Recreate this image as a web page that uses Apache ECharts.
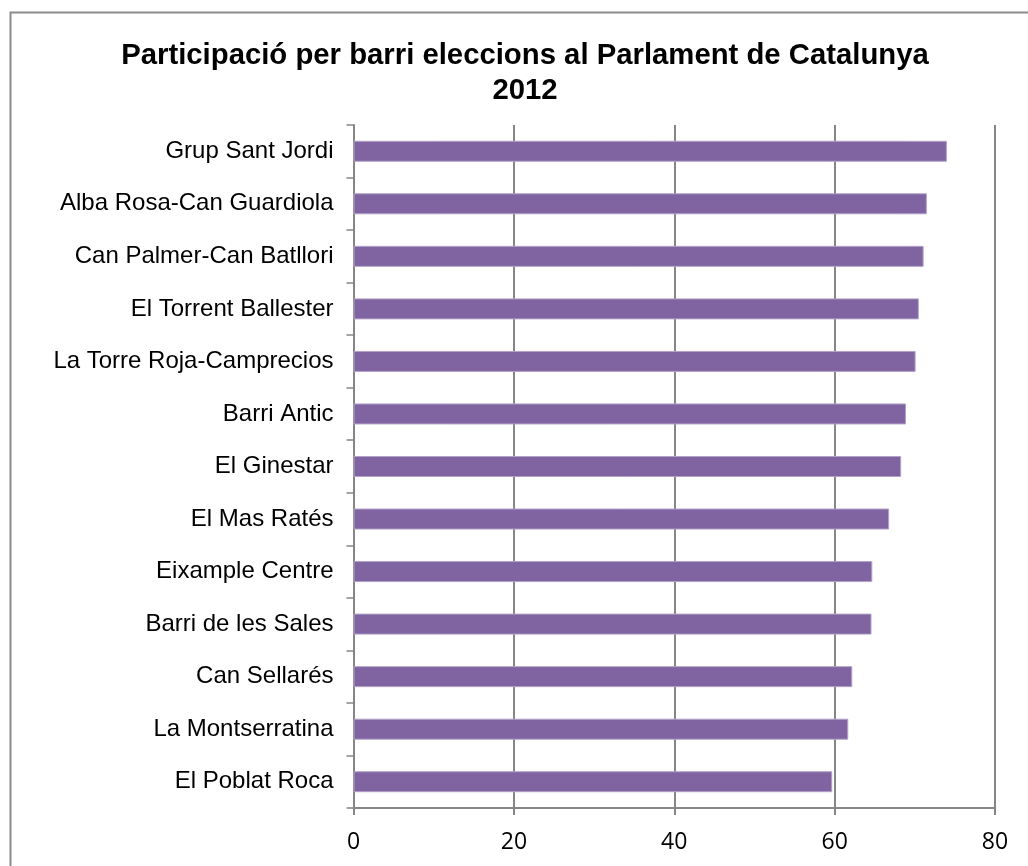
<!DOCTYPE html>
<html>
<head>
<meta charset="utf-8">
<script src="https://cdn.jsdelivr.net/npm/echarts@6/dist/echarts.min.js"></script>
<style>
html,body{margin:0;padding:0;background:#fff;}
#chart{width:1028px;height:866px;}
</style>
</head>
<body>
<div id="chart"></div>
<script>
const titleText = "Participació per barri eleccions al Parlament de Catalunya\n2012";
const categories = [
  "Grup Sant Jordi",
  "Alba Rosa-Can Guardiola",
  "Can Palmer-Can Batllori",
  "El Torrent Ballester",
  "La Torre Roja-Camprecios",
  "Barri Antic",
  "El Ginestar",
  "El Mas Ratés",
  "Eixample Centre",
  "Barri de les Sales",
  "Can Sellarés",
  "La Montserratina",
  "El Poblat Roca"
];
const participation = [74.0, 71.5, 71.1, 70.5, 70.1, 68.9, 68.3, 66.8, 64.7, 64.6, 62.2, 61.7, 59.7];
const xTicks = { min: 0, max: 80, interval: 20 };

const chart = echarts.init(document.getElementById('chart'), null, {renderer: 'canvas'});
chart.setOption({
  animation: false,
  backgroundColor: '#ffffff',
  graphic: [{
    type: 'rect',
    shape: {x: 10.5, y: 12.5, width: 1100, height: 1000},
    style: {fill: 'none', stroke: '#8c8c8c', lineWidth: 2},
    silent: true,
    z: -1
  }],
  title: {
    text: titleText,
    left: 520,
    textAlign: 'center',
    top: 33,
    textStyle: {
      fontFamily: 'Liberation Sans, Arial, sans-serif',
      fontSize: 29.3,
      fontWeight: 'bold',
      color: '#000',
      lineHeight: 35
    }
  },
  grid: {left: 353.5, right: 33, top: 125, bottom: 58, containLabel: false},
  xAxis: {
    type: 'value',
    min: xTicks.min, max: xTicks.max, interval: xTicks.interval,
    axisLine: {show: true, lineStyle: {color: '#868686', width: 2}},
    axisTick: {show: true, length: 7, lineStyle: {color: '#868686', width: 2}},
    axisLabel: {
      fontFamily: 'Open Sans, Liberation Sans, sans-serif',
      fontSize: 23, color: '#000', margin: 23
    },
    splitLine: {show: true, lineStyle: {color: '#868686', width: 2}}
  },
  yAxis: {
    type: 'category',
    data: categories,
    inverse: true,
    axisLine: {show: true, lineStyle: {color: '#868686', width: 2}},
    axisTick: {show: true, length: 7, lineStyle: {color: '#868686', width: 1.5}},
    axisLabel: {
      fontFamily: 'Liberation Sans, Arial, sans-serif',
      fontSize: 24, color: '#000', margin: 20
    },
    splitLine: {show: false}
  },
  series: [{
    type: 'bar',
    data: participation,
    barWidth: 21,
    itemStyle: {color: '#8064a2', borderColor: '#b3a2c7', borderWidth: 1}
  }]
});
</script>
</body>
</html>
